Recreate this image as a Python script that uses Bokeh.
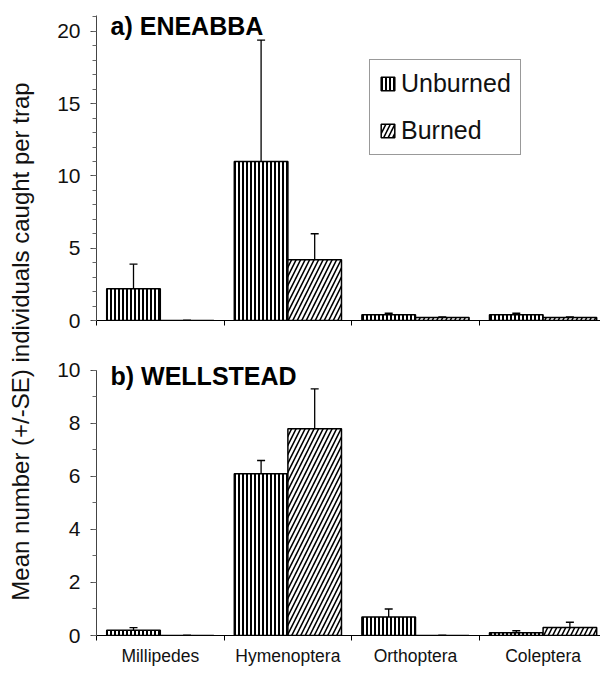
import numpy as np
from bokeh.plotting import figure
from bokeh.models import (ColumnDataSource, Range1d, Whisker, TeeHead, Legend, LegendItem,
                          Label, FixedTicker, SingleIntervalTicker)
from bokeh.layouts import row, column
from bokeh.embed import file_html
from bokeh.resources import INLINE

# ---------------- data ----------------
categories = ["Millipedes", "Hymenoptera", "Orthoptera", "Coleptera"]

eneabba_unburned = [2.2, 11.0, 0.4, 0.4]
eneabba_unburned_se = [1.7, 8.4, 0.1, 0.1]
eneabba_burned = [0.0, 4.2, 0.2, 0.2]
eneabba_burned_se = [0.0, 1.8, 0.05, 0.05]

wellstead_unburned = [0.2, 6.1, 0.7, 0.1]
wellstead_unburned_se = [0.1, 0.5, 0.3, 0.08]
wellstead_burned = [0.0, 7.8, 0.0, 0.3]
wellstead_burned_se = [0.0, 1.5, 0.0, 0.2]

y_label = "Mean number (+/-SE) individuals caught per trap"
title_a = "a) ENEABBA"
title_b = "b) WELLSTEAD"

FONT = "Liberation Sans"
BAR_W = 0.42
FIG_W = 560
X_END = 3.95


def make_panel(title, unb, unb_se, bur, bur_se, y_end, interval, n_minor, axis_top,
               height, b_top, b_bottom, title_y, show_labels):
    xc = np.arange(len(categories)) + 0.5
    unb = np.array(unb, float); unb_se = np.array(unb_se, float)
    bur = np.array(bur, float); bur_se = np.array(bur_se, float)
    src = ColumnDataSource(dict(
        xu=xc - BAR_W / 2, xb=xc + BAR_W / 2,
        unb=unb, bur=bur,
        unb_hi=unb + unb_se, unb_lo=unb - unb_se,
        bur_hi=bur + bur_se, bur_lo=bur - bur_se,
    ))
    p = figure(width=FIG_W, height=height, x_range=Range1d(0, X_END),
               y_range=Range1d(0, y_end), output_backend="svg", toolbar_location=None,
               min_border_left=56, min_border_right=0, min_border_top=b_top,
               min_border_bottom=b_bottom)
    p.xgrid.visible = False
    p.ygrid.visible = False
    p.outline_line_color = None
    p.background_fill_color = "white"

    # x axis: small ticks at category boundaries, labels at category centres
    xa = p.xaxis[0]
    boundaries = list(range(len(categories)))
    if show_labels:
        xa.ticker = FixedTicker(ticks=list(xc), minor_ticks=boundaries)
        xa.major_label_overrides = {float(x): c for x, c in zip(xc, categories)}
    else:
        xa.ticker = FixedTicker(ticks=[], minor_ticks=boundaries)
    xa.major_tick_line_color = None
    xa.major_tick_out = 0
    xa.major_tick_in = 0
    xa.minor_tick_out = 5
    xa.minor_tick_in = 0
    xa.minor_tick_line_color = "black"
    xa.axis_line_color = "black"
    xa.axis_line_width = 1.2
    xa.major_label_text_font = FONT
    xa.major_label_text_font_size = "17.5px"
    xa.major_label_text_color = "#111"
    xa.major_label_standoff = 5

    ya = p.yaxis[0]
    ya.ticker = SingleIntervalTicker(interval=interval, num_minor_ticks=n_minor)
    ya.major_tick_out = 6
    ya.major_tick_in = 0
    ya.minor_tick_out = 4
    ya.minor_tick_in = 0
    ya.axis_line_color = "#444"
    ya.major_tick_line_color = "#444"
    ya.minor_tick_line_color = "#666"
    ya.major_label_text_font = FONT
    ya.major_label_text_font_size = "21px"
    ya.major_label_text_color = "#111"
    ya.major_label_standoff = 10
    if axis_top is not None:
        ya.bounds = (0, axis_top)

    r_u = p.vbar(x="xu", top="unb", width=BAR_W, source=src, fill_color="white",
                 line_color="black", line_width=1.5, hatch_pattern="vertical_line",
                 hatch_scale=4, hatch_weight=2, hatch_color="black")
    r_b = p.vbar(x="xb", top="bur", width=BAR_W, source=src, fill_color="white",
                 line_color="black", line_width=1.5, hatch_pattern="right_diagonal_line",
                 hatch_scale=9, hatch_weight=1.6, hatch_color="black")

    for base, up, lo in (("xu", "unb_hi", "unb_lo"), ("xb", "bur_hi", "bur_lo")):
        w = Whisker(source=src, base=base, upper=up, lower=lo, line_color="black",
                    line_width=1.3,
                    upper_head=TeeHead(size=8, line_color="black", line_width=1.3),
                    lower_head=TeeHead(size=8, line_color="black", line_width=1.3))
        p.add_layout(w)

    p.add_layout(Label(x=0.11, y=title_y, text=title, text_font=FONT,
                       text_font_style="bold", text_font_size="25px",
                       text_baseline="alphabetic", text_color="black"))
    return p, r_u, r_b


# top panel: frame y 15..320 (14.45 px per unit)
top, ru, rb = make_panel(title_a, eneabba_unburned, eneabba_unburned_se,
                         eneabba_burned, eneabba_burned_se,
                         y_end=21.1, interval=5, n_minor=5, axis_top=None,
                         height=340, b_top=15, b_bottom=20, title_y=20.35,
                         show_labels=False)

legend = Legend(items=[LegendItem(label="Unburned", renderers=[ru]),
                       LegendItem(label="Burned", renderers=[rb])],
                location=(273, 165))
legend.label_text_font = FONT
legend.label_text_font_size = "25px"
legend.label_text_color = "#111"
legend.glyph_width = 17
legend.glyph_height = 17
legend.label_standoff = 5
legend.padding = 9
legend.spacing = 18
legend.margin = 0
legend.border_line_color = "#333"
legend.border_line_width = 1
legend.background_fill_alpha = 1.0
top.add_layout(legend)

# bottom panel
bottom, _, _ = make_panel(title_b, wellstead_unburned, wellstead_unburned_se,
                          wellstead_burned, wellstead_burned_se,
                          y_end=10.56, interval=2, n_minor=2, axis_top=10,
                          height=328, b_top=15, b_bottom=30, title_y=9.8,
                          show_labels=True)

lab = figure(width=40, height=668, x_range=Range1d(0, 1), y_range=Range1d(0, 1),
             output_backend="svg", toolbar_location=None, x_axis_type=None,
             y_axis_type=None, min_border=0)
lab.xgrid.visible = False
lab.ygrid.visible = False
lab.outline_line_color = None
lab.add_layout(Label(x=20, y=327, x_units="screen", y_units="screen", angle=np.pi / 2,
                     text=y_label, text_font=FONT, text_font_size="24px",
                     text_align="center", text_baseline="middle", text_color="#111"))

layout = row(lab, column(top, bottom))
open("out.html", "w").write(file_html(layout, INLINE))
